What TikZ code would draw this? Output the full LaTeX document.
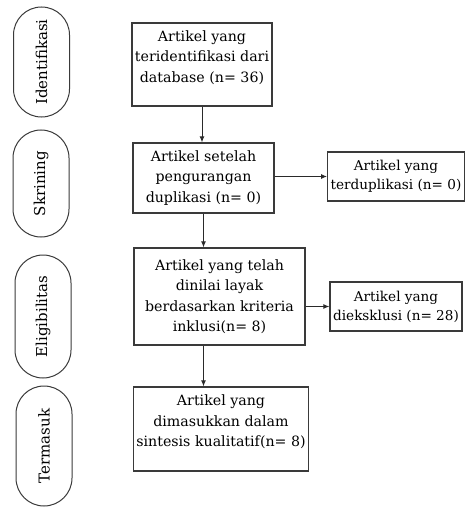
\documentclass[tikz,border=0pt]{standalone}
\usepackage{fontspec}
\setmainfont{DejaVu Serif}
\usepackage{xcolor}
\usepackage{tikz}
\usetikzlibrary{
  arrows.meta,
  positioning
}
\definecolor{boxline}{HTML}{3A3A3A}
\definecolor{arrowline}{HTML}{2A2A2A}
\tikzset{
  stagepill/.style={
    rectangle, rounded corners=28pt, draw=boxline, line width=1pt,
    minimum height=56pt, rotate=90, inner sep=0pt,
    font=\fontsize{15}{18}\selectfont
  },
  flowbox/.style={
    rectangle, draw=boxline, line width=1.3pt, fill=white,
    align=center, inner sep=3pt,
    font=\fontsize{14.2}{20.5}\selectfont
  },
  sidebox/.style={
    flowbox, minimum width=132pt, minimum height=49pt,
    font=\fontsize{13.6}{19}\selectfont
  },
  flowarrow/.style={
    -{Latex[length=6pt,width=5pt]}, line width=0.9pt, color=arrowline
  },
}
\begin{document}
\begin{tikzpicture}[x=1pt,y=-1pt]
  \useasboundingbox (0,0) rectangle (464,508);
  % phase labels on the left
  \node[stagepill, minimum width=110pt] (pIdent) at (41.5,62) {Identifikasi};
  \node[stagepill, minimum width=107pt] (pSkrin) at (41,183.5) {Skrining};
  \node[stagepill, minimum width=123pt] (pElig) at (43,316.5) {Eligibilitas};
  \node[stagepill, minimum width=120pt] (pTerm) at (44,446) {Termasuk};
  % main column
  \node[flowbox, minimum width=138pt, minimum height=83pt] (found) at (202,64.5)
    {Artikel yang\\teridentifikasi dari\\database (n= 36)\\[-4pt]};
  \node[flowbox, minimum width=141pt, minimum height=70pt] (screen) at (203.5,178)
    {Artikel setelah\\pengurangan\\duplikasi (n= 0)};
  \node[flowbox, minimum width=171pt, minimum height=97pt] (eligible) at (219.5,296.5)
    {Artikel yang telah\\dinilai layak\\berdasarkan kriteria\\inklusi(n= 8)};
  \node[flowbox, minimum width=168pt, minimum height=84pt] (included) at (221,429)
    {Artikel yang\\dimasukkan dalam\\sintesis kualitatif(n= 8)\\[-4pt]};
  % side boxes
  \node[sidebox] (dupl) at (396,176.5) {Artikel yang\\terduplikasi (n= 0)};
  \node[sidebox] (excl) at (396,306.5) {Artikel yang\\dieksklusi (n= 28)};
  % connectors
  \draw[flowarrow] (found.south) -- (found.south |- screen.north);
  \draw[flowarrow] (screen.south) -- (screen.south |- eligible.north);
  \draw[flowarrow] (screen.south |- eligible.south) -- (screen.south |- included.north);
  \draw[flowarrow] (screen.east |- dupl) -- (dupl.west);
  \draw[flowarrow] (eligible.east |- excl) -- (excl.west);
\end{tikzpicture}
\end{document}
